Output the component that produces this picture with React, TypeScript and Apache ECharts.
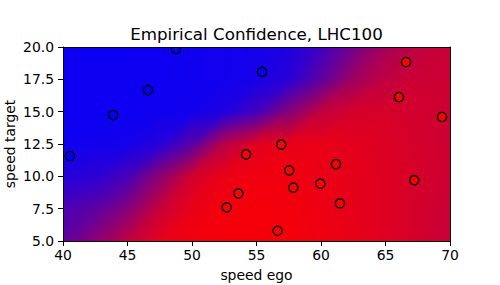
import React, { useEffect, useRef } from 'react';
import * as echarts from 'echarts';

// sample grid of the confidence field (share of "red")
const xSamples = [40, 42.5, 45, 47.5, 50, 52.5, 55, 57.5, 60, 62.5, 65, 67.5, 70];
const ySamples = [5, 7.5, 10, 12.5, 15, 17.5, 20];
const confAt5 = [0.38, 0.55, 0.75, 0.9, 0.95, 0.96, 0.96, 0.96, 0.94, 0.91, 0.87, 0.83, 0.78];
const confAt7_5 = [0.3, 0.36, 0.52, 0.77, 0.91, 0.95, 0.96, 0.95, 0.93, 0.9, 0.87, 0.83, 0.79];
const confAt10 = [0.15, 0.17, 0.28, 0.55, 0.82, 0.92, 0.94, 0.94, 0.92, 0.9, 0.87, 0.84, 0.8];
const confAt12_5 = [0.06, 0.07, 0.08, 0.15, 0.35, 0.72, 0.88, 0.91, 0.91, 0.89, 0.86, 0.83, 0.8];
const confAt15 = [0.05, 0.05, 0.05, 0.06, 0.07, 0.12, 0.26, 0.52, 0.75, 0.83, 0.84, 0.82, 0.8];
const confAt17_5 = [0.05, 0.05, 0.05, 0.05, 0.06, 0.07, 0.09, 0.16, 0.37, 0.62, 0.75, 0.8, 0.8];
const confAt20 = [0.05, 0.05, 0.05, 0.05, 0.06, 0.07, 0.08, 0.12, 0.25, 0.45, 0.65, 0.75, 0.78];
const confidenceRows = [confAt5, confAt7_5, confAt10, confAt12_5, confAt15, confAt17_5, confAt20];

// sample points
const blueX = [48.76, 43.88, 46.59, 55.43, 40.54];
const blueY = [19.85, 14.74, 16.67, 18.07, 11.57];
const redX = [66.59, 66.05, 69.38, 54.19, 53.59, 52.69, 56.92, 57.54, 61.16, 57.85, 59.95, 61.47, 67.23, 56.64];
const redY = [18.84, 16.13, 14.59, 11.7, 8.68, 7.6, 12.45, 10.46, 10.95, 9.12, 9.43, 7.91, 9.71, 5.79];

const title = 'Empirical Confidence, LHC100';
const xName = 'speed ego';
const yName = 'speed target';

const BLUE = '#0000ff';
const RED = '#ff0000';
const FONT = 'DejaVu Sans';

function triangle(p0: number[], p1: number[], p2: number[], t0: number, t1: number, t2: number) {
  const ax = p1[0] - p0[0], ay = p1[1] - p0[1];
  const bx = p2[0] - p0[0], by = p2[1] - p0[1];
  const det = ax * by - ay * bx;
  const d1 = t1 - t0, d2 = t2 - t0;
  let fill: any;
  if (Math.abs(det) < 1e-9) {
    fill = echarts.color.lerp(t0, [BLUE, RED]);
  } else {
    const gx = (d1 * by - d2 * ay) / det;
    const gy = (ax * d2 - bx * d1) / det;
    const gg = gx * gx + gy * gy;
    if (gg < 1e-14) {
      fill = echarts.color.lerp(t0, [BLUE, RED]);
    } else {
      const s = -t0 / gg;
      const e = (1 - t0) / gg;
      fill = new echarts.graphic.LinearGradient(
        p0[0] + s * gx, p0[1] + s * gy, p0[0] + e * gx, p0[1] + e * gy,
        [{ offset: 0, color: BLUE }, { offset: 1, color: RED }],
        true
      );
    }
  }
  return {
    type: 'polygon',
    shape: { points: [p0, p1, p2] },
    style: { fill, stroke: fill, lineWidth: 1.4, lineJoin: 'round' },
  };
}

export default function App() {
  const ref = useRef<HTMLDivElement>(null);
  useEffect(() => {
    if (!ref.current) return;
    const chart = echarts.init(ref.current, undefined, { renderer: 'svg' });
    const cells: number[][] = [];
    for (let j = 0; j < ySamples.length - 1; j++) {
      for (let i = 0; i < xSamples.length - 1; i++) {
        cells.push([xSamples[i], ySamples[j], i, j]);
      }
    }
    const pointRenderer = (color: string) => (params: any, api: any) => {
      const p = api.coord([api.value(0), api.value(1)]);
      return {
        type: 'circle',
        shape: { cx: p[0], cy: p[1], r: 4.6 },
        style: { fill: color, stroke: '#000', lineWidth: 1.4 },
      };
    };
    const axisCommon = {
      axisLine: { show: true, lineStyle: { color: '#000', width: 1 } },
      splitLine: { show: false },
      z: 10,
    };
    chart.setOption({
      animation: false,
      grid: {
        left: 63,
        right: 50,
        top: 47,
        bottom: 44,
        containLabel: false,
        outerBoundsMode: 'none',
      },
      graphic: [
        {
          type: 'text',
          x: 256.5,
          y: 33.5,
          style: {
            text: title,
            fontFamily: FONT,
            fontSize: 16.7,
            fill: '#000',
            align: 'center',
            verticalAlign: 'middle',
          },
        },
      ],
      xAxis: [
        {
          ...axisCommon,
          type: 'value',
          position: 'bottom',
          min: 40,
          max: 70,
          interval: 5,
          axisTick: { show: true, inside: false, length: 5, lineStyle: { color: '#000' } },
          axisLabel: { show: true, margin: 7, color: '#000', fontSize: 13.9, fontFamily: FONT },
          name: xName,
          nameLocation: 'middle',
          nameGap: 27,
          nameMoveOverlap: false,
          nameTextStyle: { color: '#000', fontSize: 13.9, fontFamily: FONT },
        },
        {
          ...axisCommon,
          type: 'value',
          position: 'top',
          min: 40,
          max: 70,
          axisTick: { show: false },
          axisLabel: { show: false },
        },
      ],
      yAxis: [
        {
          ...axisCommon,
          type: 'value',
          position: 'left',
          min: 5,
          max: 20,
          interval: 2.5,
          axisTick: { show: true, inside: false, length: 5, lineStyle: { color: '#000' } },
          axisLabel: {
            show: true,
            margin: 9,
            color: '#000',
            fontSize: 13.9,
            fontFamily: FONT,
            formatter: (v: number) => v.toFixed(1),
          },
          name: yName,
          nameLocation: 'middle',
          nameGap: 46,
          nameMoveOverlap: false,
          nameTextStyle: { color: '#000', fontSize: 13.9, fontFamily: FONT, lineHeight: 15 },
        },
        {
          ...axisCommon,
          type: 'value',
          position: 'right',
          min: 5,
          max: 20,
          axisTick: { show: false },
          axisLabel: { show: false },
        },
      ],
      series: [
        {
          type: 'custom',
          xAxisIndex: 0,
          yAxisIndex: 0,
          clip: true,
          z: 1,
          encode: { x: 0, y: 1 },
          data: cells,
          renderItem: (params: any, api: any) => {
            const i = api.value(2);
            const j = api.value(3);
            const p00 = api.coord([xSamples[i], ySamples[j]]);
            const p10 = api.coord([xSamples[i + 1], ySamples[j]]);
            const p01 = api.coord([xSamples[i], ySamples[j + 1]]);
            const p11 = api.coord([xSamples[i + 1], ySamples[j + 1]]);
            const t00 = confidenceRows[j][i];
            const t10 = confidenceRows[j][i + 1];
            const t01 = confidenceRows[j + 1][i];
            const t11 = confidenceRows[j + 1][i + 1];
            return {
              type: 'group',
              children: [
                triangle(p00, p10, p11, t00, t10, t11),
                triangle(p00, p11, p01, t00, t11, t01),
              ],
            };
          },
        },
        {
          type: 'custom',
          xAxisIndex: 0,
          yAxisIndex: 0,
          clip: true,
          z: 3,
          encode: { x: 0, y: 1 },
          data: blueX.map((x, k) => [x, blueY[k]]),
          renderItem: pointRenderer(BLUE),
        },
        {
          type: 'custom',
          xAxisIndex: 0,
          yAxisIndex: 0,
          clip: true,
          z: 3,
          encode: { x: 0, y: 1 },
          data: redX.map((x, k) => [x, redY[k]]),
          renderItem: pointRenderer(RED),
        },
      ],
    });
    return () => chart.dispose();
  }, []);
  return (
    <div
      ref={ref}
      style={{ position: 'fixed', left: 0, top: 0, width: 500, height: 285, background: '#fff' }}
    />
  );
}
